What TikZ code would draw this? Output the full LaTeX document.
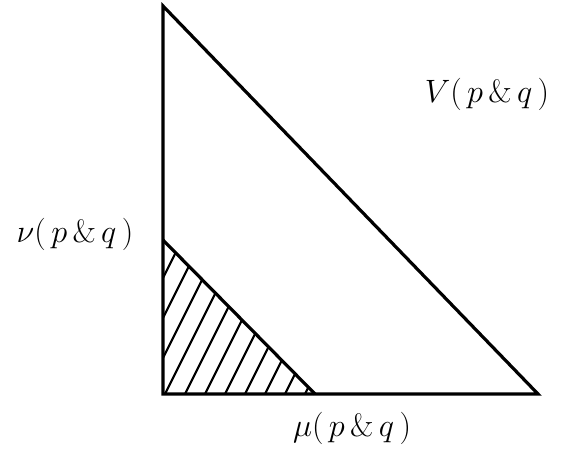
\documentclass[tikz,border=0pt]{standalone}
\begin{document}
\begin{tikzpicture}[x=1pt,y=-1pt,
  edge/.style={line width=3.2pt,line join=miter},
  hatch/.style={line width=2.2pt},
  lbl/.style={font=\fontsize{24.88}{28}\selectfont,scale=1.3}]
\useasboundingbox (0,0) rectangle (564,452);
\coordinate (T) at (163,6);
\coordinate (O) at (163,394);
\coordinate (R) at (538,394);
\coordinate (H) at (163,240);
\coordinate (M) at (315,394);
\begin{scope}
  \clip (O) -- (H) -- (M) -- cycle;
  \foreach \x in {85,105,...,305} {
    \draw[hatch] (\x,394) -- ++(100,-200);
  }
\end{scope}
\draw[edge] (H) -- (M);
\draw[edge] (T) -- (O) -- (R) -- cycle;
\node[lbl] (V) at (487,94) {$V(\,p\,\&\,q\,)$};
\node[lbl] (N) at (75,234) {$\nu(\,p\,\&\,q\,)$};
\node[lbl] (Mu) at (352,428) {$\mu(\,p\,\&\,q\,)$};
\end{tikzpicture}
\end{document}
